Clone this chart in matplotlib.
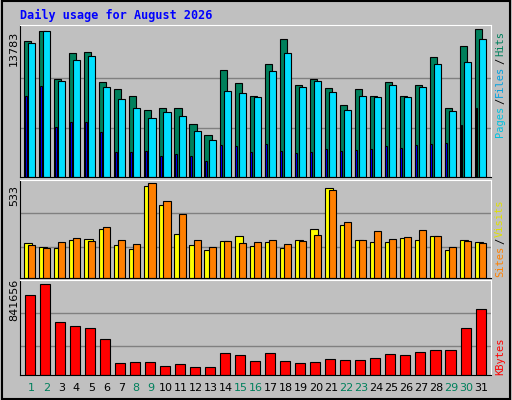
import matplotlib
matplotlib.use("Agg")
import matplotlib.pyplot as plt
import numpy as np

days = list(range(1, 32))
hits = [12630,13600,9085,11540,11635,8805,8150,7500,6285,6380,6470,4980,3950,9925,8710,7590,
        10485,12820,8525,9085,8245,6660,8150,7590,8805,7500,8525,11140,6380,12165,13783]
files = [12445,13595,8900,10860,11230,8340,7310,6470,5540,6100,5725,4325,3485,7965,7780,7405,
         9830,11510,8340,8900,7870,6285,7590,7405,8525,7405,8340,10485,6190,10670,12820]
pages = [7500,8430,4700,5165,5165,4230,2365,2365,2460,1990,2180,1990,1525,3020,2925,2365,
         3110,2460,2270,2365,2645,2460,2550,2645,2925,2740,3020,3110,3205,4885,6380]
visits = [197,174,168,214,220,278,185,162,516,411,249,185,156,209,238,180,203,168,214,278,
          510,301,214,203,203,226,214,238,156,214,203]
sites = [185,168,203,226,209,290,214,191,533,434,359,214,174,209,197,203,214,191,209,243,
         498,313,214,266,220,232,272,238,174,209,197]
kbytes = [739900,841656,490200,453200,434700,333000,111000,120200,120200,83200,101700,74000,
          74000,203500,185000,129500,203500,129500,111000,120200,148000,138700,138700,157200,
          194200,185000,212700,231200,231200,434700,610400]
weekend = [1,2,8,9,15,16,22,23,29,30]

BG = "#C0C0C0"
GREEN = "#00805C"
mono = "DejaVu Sans Mono"
fig = plt.figure(figsize=(5.12, 4.0), dpi=100, facecolor=BG)
x = np.array(days, dtype=float)
L, W = 20/512, 471/512

def mkax(top, bot):
    ax = fig.add_axes([L, 1-bot/400, W, (bot-top)/400])
    ax.set_facecolor(BG)
    ax.set_xlim(0.35, 31.7)
    ax.set_xticks([]); ax.set_yticks([])
    for s in ax.spines.values():
        s.set_color("black")
    ax.spines['top'].set_color("white"); ax.spines['right'].set_color("white")
    return ax

ek = dict(edgecolor="black", linewidth=0.8, align="edge")

ax1 = mkax(25, 177)
m = max(hits)
ax1.set_ylim(0, m*455/443)
for f in (1/3, 2/3):
    ax1.axhline(m*f, color="#808080", lw=1, zorder=0)
ax1.bar(x-0.37, hits, 0.47, color=GREEN, **ek)
ax1.bar(x-0.1, files, 0.47, color="#00E0FF", **ek)
ax1.bar(x-0.33, pages, 0.12, color="#0000FF", **ek)

ax2 = mkax(180, 278)
m2 = max(sites)
ax2.set_ylim(0, m2*286/276)
for f in (0.33, 0.69):
    ax2.axhline(m2*f, color="#808080", lw=1, zorder=0)
ax2.bar(x-0.37, visits, 0.55, color="#FFFF00", **ek)
ax2.bar(x-0.1, sites, 0.47, color="#FF8000", **ek)

ax3 = mkax(280, 375)
m3 = max(kbytes)
ax3.set_ylim(0, m3*284/273)
for f in (87/273, 186/273):
    ax3.axhline(m3*f, color="#808080", lw=1, zorder=0)
ax3.bar(x-0.33, kbytes, 0.67, color="#FF0000", **ek)

for d in days:
    px = 31.3 + (d-1)*15
    fig.text(px/512, 1-388/400, str(d), ha="center", va="center", fontsize=8,
             color=GREEN if d in weekend else "black")

fig.text(20/512, 1-15/400, "Daily usage for August 2026", color="#0000FF", fontsize=8.5,
         fontweight="bold", family=mono, va="center")
fig.text(14/512, 1-48/400, "13783", rotation=90, ha="center", va="center", fontsize=8)
fig.text(14/512, 1-195/400, "533", rotation=90, ha="center", va="center", fontsize=8)
fig.text(14/512, 1-300/400, "841656", rotation=90, ha="center", va="center", fontsize=8)

def rlabel(parts, ybot):
    y = ybot
    for t, c in parts:
        fig.text(500/512, 1-y/400, t, rotation=90, color=c, fontsize=7.5, family=mono,
                 ha="center", va="bottom")
        y -= len(t)*6.4 + 1
rlabel([("Pages", "#00C0E0"), ("/", "black"), ("Files", "#00A0E0"), ("/", "black"), ("Hits", GREEN)], 137)
rlabel([("Sites", "#FF8000"), ("/", "black"), ("Visits", "#E0E000")], 277)
rlabel([("KBytes", "#FF0000")], 375)

fig.patches.append(plt.Rectangle((0.003, 0.003), 0.994, 0.994, transform=fig.transFigure,
                                 fill=False, edgecolor="black", lw=1.5))
fig.savefig("out.png", dpi=100, facecolor=BG)
